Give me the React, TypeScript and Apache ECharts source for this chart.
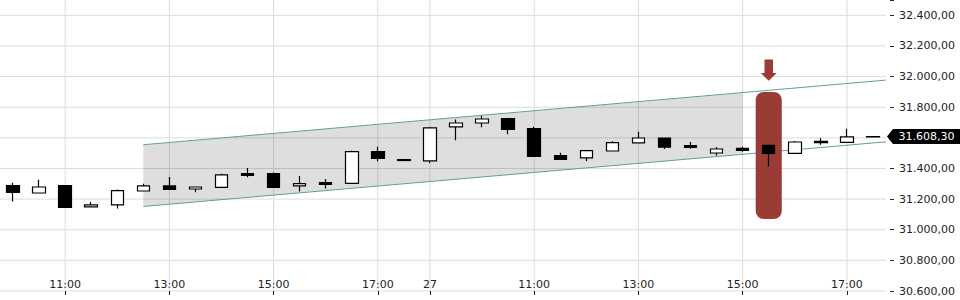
import React, { useEffect, useRef } from "react";
import * as echarts from "echarts";

// ---- data ----
const day26Times = ["10:00","10:30","11:00","11:30","12:00","12:30","13:00","13:30","14:00","14:30","15:00","15:30","16:00","16:30","17:00","17:30"];
const day27Times = ["09:00","09:30","10:00","10:30","11:00","11:30","12:00","12:30","13:00","13:30","14:00","14:30","15:00","15:30","16:00","16:30","17:00","17:30"];
const categories = [...day26Times.map((t) => "26 " + t), ...day27Times.map((t) => "27 " + t)];

const opens  = [31288,31240,31288,31149,31162,31253,31286,31266,31277,31366,31366,31286,31307,31303,31510,31458,31449,31671,31697,31725,31660,31484,31469,31514,31567,31599,31549,31501,31531,31551,31499,31569,31571,31606];
const closes = [31244,31279,31146,31162,31255,31286,31264,31279,31358,31355,31277,31301,31296,31510,31466,31452,31665,31697,31723,31655,31479,31460,31516,31569,31599,31540,31538,31527,31518,31499,31573,31577,31606,31608.3];
const lows   = [31185,31240,31146,31149,31139,31253,31264,31244,31277,31342,31277,31250,31270,31303,31447,31452,31436,31584,31669,31623,31479,31460,31447,31514,31567,31527,31529,31484,31510,31414,31499,31555,31571,31606];
const highs  = [31307,31327,31292,31181,31262,31301,31345,31279,31366,31403,31373,31351,31331,31516,31542,31458,31671,31719,31745,31727,31673,31503,31516,31577,31640,31599,31573,31540,31542,31551,31580,31599,31660,31608.3];

const labelIndices = [2, 6, 10, 14, 16, 20, 24, 28, 32];
const labelTexts = ["11:00", "13:00", "15:00", "17:00", "27", "11:00", "13:00", "15:00", "17:00"];

const yMin = 30600;
const yMax = 32500;
const yStep = 200;
const yGridValues = [30600, 30800, 31000, 31200, 31400, 31600, 31800, 32000, 32200, 32400];
const lastPrice = 31608.3;

// x extent in candle-index units
const xMin = -0.5;
const xMax = 33.5;

// channel (x in candle-index units)
const channelX = [5, 28, 33.5];
const channelUpper = [31555, 31893, 31977];
const channelLower = [31152, 31492, 31574];

// highlight + arrow
const highlightIndex = 29;
const highlightRange = [31070, 31900];
const arrowValues = [32111, 32024, 31973]; // top, head base, tip

// ---- helpers ----
const FONT = "DejaVu Sans";
const GRID = "#dcdcdc";
const fmt = (v: number) => {
  const [i, d] = v.toFixed(2).split(".");
  return i.replace(/\B(?=(\d{3})+(?!\d))/g, ".") + "," + d;
};
const showIdx = (idx: number) => labelIndices.includes(idx);

export default function App() {
  const ref = useRef<HTMLDivElement>(null);
  useEffect(() => {
    if (!ref.current) return;
    const chart = echarts.init(ref.current, null, { renderer: "svg" });
    const candleData = opens.map((o, i) => [o, closes[i], lows[i], highs[i]]);

    chart.setOption({
      animation: false,
      grid: { left: 0, right: 74, top: 0, bottom: 9 },
      xAxis: [
        {
          type: "category",
          data: categories,
          boundaryGap: true,
          axisLine: { show: false, onZero: false },
          axisTick: {
            show: true,
            alignWithLabel: true,
            interval: (idx: number) => showIdx(idx),
            length: 4,
            lineStyle: { color: "#222" },
          },
          axisLabel: {
            inside: true,
            interval: (idx: number) => showIdx(idx),
            formatter: (_v: string, idx: number) => {
              const k = labelIndices.indexOf(idx);
              return k >= 0 ? labelTexts[k] : "";
            },
            margin: 1,
            color: "#222",
            fontFamily: FONT,
            fontSize: 11,
          },
          splitLine: { show: false },
        },
        { type: "value", min: xMin, max: xMax, show: false, axisLine: { onZero: false }, splitLine: { show: false } },
      ],
      yAxis: {
        type: "value",
        position: "right",
        min: yMin,
        max: yMax,
        interval: yStep,
        offset: 4,
        axisLine: { show: false, onZero: false },
        axisTick: { show: true, length: 4, lineStyle: { color: "#222" } },
        axisLabel: {
          margin: 9,
          formatter: (v: number) => (v === yMax ? "" : fmt(v)),
          color: "#222",
          fontFamily: FONT,
          fontSize: 11,
        },
        splitLine: { show: false },
      },
      series: [
        {
          type: "custom",
          name: "hgrid",
          xAxisIndex: 1,
          z: 0,
          silent: true,
          data: yGridValues.map((v) => [xMin, v]),
          renderItem: (_params: any, api: any) => {
            const a = api.coord([xMin, api.value(1)]);
            const b = api.coord([xMax, api.value(1)]);
            return {
              type: "line",
              shape: { x1: a[0], y1: a[1], x2: b[0], y2: b[1] },
              style: { stroke: GRID, lineWidth: 1 },
            };
          },
        },
        {
          type: "custom",
          name: "vgrid",
          xAxisIndex: 1,
          z: 0,
          silent: true,
          data: labelIndices.map((i) => [i, yMin]),
          renderItem: (_params: any, api: any) => {
            const a = api.coord([api.value(0), yMin]);
            const b = api.coord([api.value(0), yMax]);
            return {
              type: "line",
              shape: { x1: a[0], y1: a[1], x2: b[0], y2: b[1] },
              style: { stroke: GRID, lineWidth: 1 },
            };
          },
        },
        {
          type: "custom",
          name: "band",
          xAxisIndex: 1,
          z: 1,
          silent: true,
          data: [[channelX[0], channelUpper[0]]],
          renderItem: (_params: any, api: any) => {
            const pts = [
              api.coord([channelX[0], channelUpper[0]]),
              api.coord([channelX[1], channelUpper[1]]),
              api.coord([channelX[1], channelLower[1]]),
              api.coord([channelX[0], channelLower[0]]),
            ];
            return { type: "polygon", shape: { points: pts }, style: { fill: "rgba(0,0,0,0.13)" } };
          },
        },
        {
          type: "line",
          name: "upper",
          xAxisIndex: 1,
          z: 2,
          silent: true,
          showSymbol: false,
          data: [[channelX[0], channelUpper[0]], [channelX[2], channelUpper[2]]],
          lineStyle: { color: "#5f9ea0", width: 1 },
        },
        {
          type: "line",
          name: "lower",
          xAxisIndex: 1,
          z: 2,
          silent: true,
          showSymbol: false,
          data: [[channelX[0], channelLower[0]], [channelX[2], channelLower[2]]],
          lineStyle: { color: "#5f9ea0", width: 1 },
        },
        {
          type: "custom",
          name: "highlight",
          xAxisIndex: 0,
          z: 3,
          silent: true,
          data: [[highlightIndex, highlightRange[0], highlightRange[1]]],
          renderItem: (_params: any, api: any) => {
            const top = api.coord([api.value(0), api.value(2)]);
            const bot = api.coord([api.value(0), api.value(1)]);
            const w = api.size([1, 0])[0];
            return {
              type: "rect",
              shape: { x: top[0] - w / 2, y: top[1], width: w, height: bot[1] - top[1], r: 8 },
              style: { fill: "#9a3b36" },
            };
          },
        },
        {
          type: "candlestick",
          name: "price",
          z: 4,
          barWidth: 13,
          data: candleData,
          itemStyle: {
            color: "#ffffff",
            color0: "#000000",
            borderColor: "#000000",
            borderColor0: "#000000",
            borderWidth: 1.2,
          },
          markPoint: {
            silent: true,
            symbol: "path://M0,7.5L6,0L73,0L73,15L6,15Z",
            symbolSize: [73, 15],
            symbolKeepAspect: false,
            symbolOffset: [50.5, 0],
            itemStyle: { color: "#000" },
            label: {
              show: true,
              position: "inside",
              offset: [3, 0],
              formatter: () => fmt(lastPrice),
              color: "#fff",
              fontFamily: FONT,
              fontSize: 11,
            },
            data: [{ coord: [categories[categories.length - 1], lastPrice], value: lastPrice }],
          },
        },
        {
          type: "custom",
          name: "arrow",
          xAxisIndex: 0,
          z: 5,
          silent: true,
          data: [[highlightIndex, arrowValues[0], arrowValues[1], arrowValues[2]]],
          renderItem: (_params: any, api: any) => {
            const t = api.coord([api.value(0), api.value(1)]);
            const h = api.coord([api.value(0), api.value(2)]);
            const tip = api.coord([api.value(0), api.value(3)]);
            const cx = t[0];
            const sw = 4.25;
            const hw = 8;
            return {
              type: "polygon",
              shape: {
                points: [
                  [cx - sw, t[1]], [cx + sw, t[1]], [cx + sw, h[1]], [cx + hw, h[1]],
                  [cx, tip[1]], [cx - hw, h[1]], [cx - sw, h[1]],
                ],
              },
              style: { fill: "#9a3b36" },
            };
          },
        },
      ],
    });
    return () => chart.dispose();
  }, []);
  return <div ref={ref} style={{ position: "absolute", left: 0, top: 0, width: 960, height: 300 }} />;
}
